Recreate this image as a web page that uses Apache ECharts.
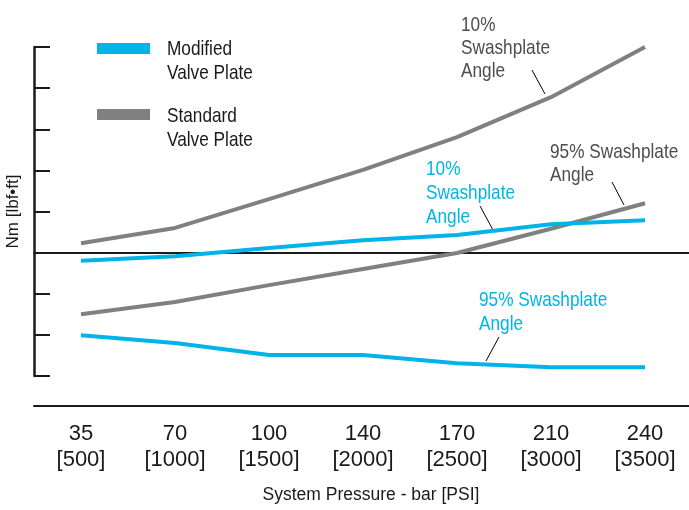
<!DOCTYPE html>
<html>
<head>
<meta charset="utf-8">
<script src="https://cdn.jsdelivr.net/npm/echarts@6/dist/echarts.min.js"></script>
<style>
  html, body { margin: 0; padding: 0; background: #fff; }
  #chart { width: 689px; height: 510px; }
</style>
</head>
<body>
<div id="chart"></div>
<script>
  // pressure steps: bar on top, PSI in brackets below
  const pressureBar = ['35', '70', '100', '140', '170', '210', '240'];
  const pressurePsi = ['500', '1000', '1500', '2000', '2500', '3000', '3500'];

  // torque loss (one y tick = 1 unit, no scale printed)
  const modified10 = [-0.2, -0.09, 0.11, 0.3, 0.43, 0.69, 0.79];
  const modified95 = [-2.01, -2.2, -2.49, -2.49, -2.69, -2.79, -2.79];
  const standard10 = [0.23, 0.6, 1.3, 2.01, 2.81, 3.78, 5.0];
  const standard95 = [-1.5, -1.2, -0.79, -0.4, -0.01, 0.58, 1.2];

  const yMin = -3;
  const yMax = 5;

  const FONT = "'Liberation Sans', Arial, sans-serif";
  const BLUE = '#00b4e8';
  const GRAY = '#808080';
  const NOTE = '#4d4d4d';
  const INK = '#1a1a1a';
  const NARROW = 0.82; // no condensed face installed, squeeze the free texts

  const chart = echarts.init(document.getElementById('chart'));

  function lineSeries(name, data, color) {
    return {
      name,
      type: 'line',
      xAxisIndex: 0,
      yAxisIndex: 0,
      data,
      symbol: 'none',
      silent: true,
      lineStyle: { color, width: 4, cap: 'butt', join: 'round' },
      itemStyle: { color },
    };
  }

  function note(text, x, y, color, lineHeight) {
    return {
      type: 'text',
      x, y,
      scaleX: NARROW,
      style: {
        text, x: 0, y: 0,
        fill: color,
        fontSize: 21,
        fontFamily: FONT,
        lineHeight,
        align: 'left',
        verticalAlign: 'middle',
      },
    };
  }

  function leader(x1, y1, x2, y2) {
    return {
      type: 'line',
      shape: { x1, y1, x2, y2 },
      style: { stroke: '#000', lineWidth: 1 },
    };
  }

  const tickStyle = { color: INK, width: 2 };

  const option = {
    animation: false,
    backgroundColor: '#fff',
    textStyle: { fontFamily: FONT },
    grid: [
      { left: 34, top: 47, width: 658, height: 329, outerBoundsMode: 'none', containLabel: false },
      { left: 34, top: 398, width: 658, height: 7.5, outerBoundsMode: 'none', containLabel: false },
    ],
    xAxis: [
      {
        // zero line with small upward ticks
        gridIndex: 0,
        type: 'category',
        data: pressureBar,
        boundaryGap: true,
        axisLine: { onZero: true, lineStyle: { color: INK, width: 2 } },
        axisTick: { inside: true, length: 8, interval: 0, lineStyle: tickStyle },
        axisLabel: { show: false },
        splitLine: { show: false },
      },
      {
        gridIndex: 1,
        type: 'category',
        position: 'bottom',
        data: pressureBar.map((b, i) => b + '\n[' + pressurePsi[i] + ']'),
        boundaryGap: true,
        axisLine: { onZero: false, lineStyle: { color: INK, width: 2 } },
        axisTick: { inside: true, length: 8, interval: 0, lineStyle: tickStyle },
        axisLabel: {
          interval: 0,
          margin: 15,
          color: INK,
          fontSize: 22,
          lineHeight: 26.5,
          fontFamily: FONT,
        },
        name: 'System Pressure - bar [PSI]',
        nameLocation: 'middle',
        nameGap: 81,
        nameTextStyle: { color: INK, fontSize: 17.5, fontFamily: FONT, padding: [0, 0, 0, 16] },
      },
    ],
    yAxis: [
      {
        gridIndex: 0,
        type: 'value',
        min: yMin,
        max: yMax,
        interval: 1,
        axisLine: { show: true, onZero: false, lineStyle: { color: INK, width: 2.5 } },
        axisTick: { show: true, inside: true, length: 16, lineStyle: tickStyle },
        axisLabel: { show: false },
        splitLine: { show: false },
        name: 'Nm [lbf•ft]',
        nameLocation: 'middle',
        nameGap: 12,
        nameTextStyle: { color: INK, fontSize: 17, fontFamily: FONT },
      },
      { gridIndex: 1, type: 'value', show: false },
    ],
    series: [
      lineSeries('Standard 10%', standard10, GRAY),
      lineSeries('Standard 95%', standard95, GRAY),
      lineSeries('Modified 10%', modified10, BLUE),
      lineSeries('Modified 95%', modified95, BLUE),
    ],
    graphic: [
      // legend
      { type: 'rect', shape: { x: 97, y: 43, width: 53, height: 11 }, style: { fill: BLUE } },
      note('Modified\nValve Plate', 167, 61, INK, 23.5),
      { type: 'rect', shape: { x: 97, y: 109, width: 53, height: 11 }, style: { fill: GRAY } },
      note('Standard\nValve Plate', 167, 128, INK, 23.5),

      // curve notes
      note('10%\nSwashplate\nAngle', 461, 48.3, NOTE, 23.3),
      leader(532, 70, 545, 94),
      note('95% Swashplate\nAngle', 550, 163.5, NOTE, 23.3),
      leader(612, 182, 624, 205),
      note('10%\nSwashplate\nAngle', 426, 193.5, BLUE, 24),
      leader(480, 206, 493, 230),
      note('95% Swashplate\nAngle', 479, 312, BLUE, 23.5),
      leader(499, 337, 486, 361),
    ],
  };

  chart.setOption(option);
</script>
</body>
</html>
